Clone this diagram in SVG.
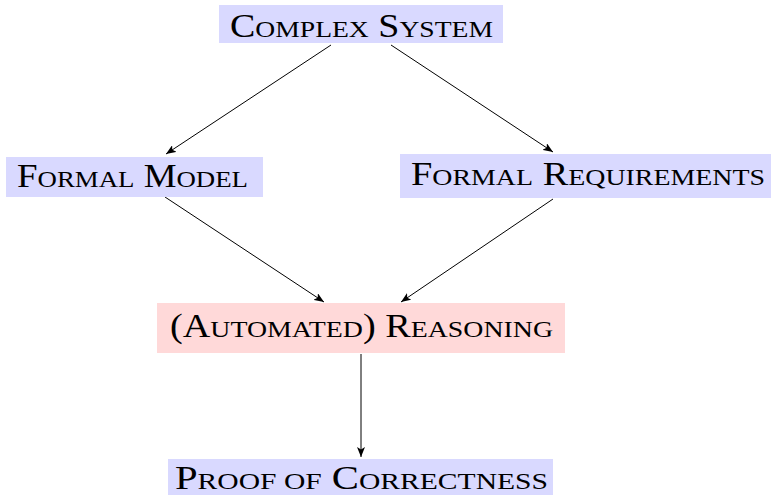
<svg xmlns="http://www.w3.org/2000/svg" width="773" height="495" viewBox="0 0 773 495">
  <style>
    .blue { fill: #d9d9ff; }
    .red { fill: #ffd9d9; }
    .lbl { font-family: "Liberation Serif", "DejaVu Serif", serif; font-size: 33px; fill: #000; }
    .sc { font-size: 24px; }
    .edge { stroke: #000; stroke-width: 1; fill: none; marker-end: url(#arrow); }
  </style>
  <defs>
    <marker id="arrow" viewBox="0 0 10 8" refX="10" refY="4" markerWidth="10" markerHeight="8" markerUnits="userSpaceOnUse" orient="auto">
      <path d="M0,0 L10,4 L0,8 L2.5,4 Z" fill="#000"/>
    </marker>
  </defs>

  <g id="connectors">
    <line class="edge" x1="331" y1="45" x2="166" y2="154"/>
    <line class="edge" x1="391" y1="45" x2="553" y2="152"/>
    <line class="edge" x1="165" y1="197" x2="324" y2="302"/>
    <line class="edge" x1="553" y1="199" x2="401" y2="302"/>
    <line class="edge" x1="361" y1="354" x2="361" y2="457"/>
  </g>

  <g id="complex-system">
    <rect class="blue" x="219" y="5" width="284" height="38"/>
    <text class="lbl" x="230" y="37" textLength="263" lengthAdjust="spacingAndGlyphs">C<tspan class="sc">OMPLEX</tspan> S<tspan class="sc">YSTEM</tspan></text>
  </g>

  <g id="formal-model">
    <rect class="blue" x="6" y="157" width="257" height="40"/>
    <text class="lbl" x="17" y="187" textLength="231" lengthAdjust="spacingAndGlyphs">F<tspan class="sc">ORMAL</tspan> M<tspan class="sc">ODEL</tspan></text>
  </g>

  <g id="formal-requirements">
    <rect class="blue" x="400" y="154" width="371" height="44"/>
    <text class="lbl" x="411" y="185" textLength="354" lengthAdjust="spacingAndGlyphs">F<tspan class="sc">ORMAL</tspan> R<tspan class="sc">EQUIREMENTS</tspan></text>
  </g>

  <g id="reasoning">
    <rect class="red" x="157" y="303" width="408" height="50"/>
    <text class="lbl" x="170" y="337" textLength="383" lengthAdjust="spacingAndGlyphs">(A<tspan class="sc">UTOMATED</tspan>) R<tspan class="sc">EASONING</tspan></text>
  </g>

  <g id="proof">
    <rect class="blue" x="168" y="459" width="385" height="36"/>
    <text class="lbl" x="175" y="489" textLength="373" lengthAdjust="spacingAndGlyphs">P<tspan class="sc">ROOF OF</tspan> C<tspan class="sc">ORRECTNESS</tspan></text>
  </g>
</svg>
